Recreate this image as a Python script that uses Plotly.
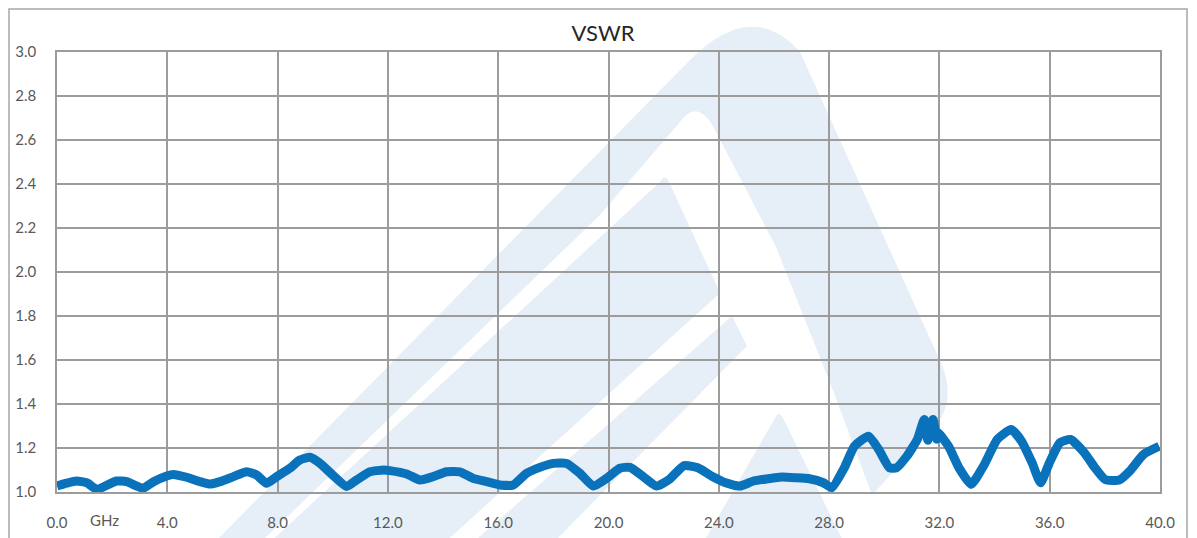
import plotly.graph_objects as go

# ---- data ----
freq_ghz = [0.0, 0.35, 0.71, 1.08, 1.44, 1.8, 2.16, 2.53, 2.89, 3.13, 3.5, 3.98, 4.22, 4.7,
            5.19, 5.55, 5.91, 6.4, 6.88, 7.24, 7.6, 7.97, 8.45, 8.8, 9.18, 9.54, 10.0, 10.5,
            10.87, 11.35, 11.85, 12.07, 12.68, 13.16, 13.64, 14.13, 14.61, 15.09, 15.58,
            16.06, 16.55, 17.03, 17.51, 18.0, 18.48, 18.96, 19.45, 19.93, 20.41, 20.78,
            21.26, 21.74, 22.23, 22.74, 23.24, 23.75, 24.25, 24.76, 25.26, 25.77, 26.27,
            26.78, 27.28, 27.79, 28.1, 28.55, 28.92, 29.43, 29.8, 30.19, 30.44, 30.82,
            31.2, 31.45, 31.58, 31.77, 31.9, 31.95, 32.33, 32.71, 33.15, 33.6, 34.1, 34.6,
            34.98, 35.36, 35.67, 35.99, 36.37, 36.75, 37.26, 37.64, 38.01, 38.52, 38.9,
            39.4, 39.97]
vswr = [1.027, 1.04, 1.05, 1.042, 1.012, 1.03, 1.05, 1.047, 1.027, 1.017, 1.047, 1.073,
        1.08, 1.067, 1.047, 1.036, 1.047, 1.07, 1.092, 1.077, 1.04, 1.07, 1.108, 1.145,
        1.158, 1.13, 1.077, 1.025, 1.055, 1.092, 1.1, 1.097, 1.082, 1.055, 1.07, 1.092,
        1.092, 1.062, 1.047, 1.032, 1.032, 1.085, 1.112, 1.13, 1.13, 1.085, 1.027, 1.062,
        1.108, 1.112, 1.07, 1.027, 1.06, 1.12, 1.11, 1.072, 1.042, 1.027, 1.05, 1.06,
        1.068, 1.065, 1.06, 1.042, 1.02, 1.11, 1.208, 1.254, 1.193, 1.11, 1.11, 1.163,
        1.239, 1.33, 1.235, 1.33, 1.24, 1.269, 1.208, 1.11, 1.035, 1.118, 1.239, 1.284,
        1.231, 1.133, 1.042, 1.133, 1.224, 1.239, 1.178, 1.11, 1.057, 1.054, 1.095,
        1.171, 1.208]

x_tick_vals = [0, 4, 8, 12, 16, 20, 24, 28, 32, 36, 40]
y_tick_vals = [1.0, 1.2, 1.4, 1.6, 1.8, 2.0, 2.2, 2.4, 2.6, 2.8, 3.0]
title_text = "VSWR"
unit_text = "GHz"

# ---- layout geometry (screen pixels; the page body adds an 8px offset) ----
OFF = 8
W, H = 1197 - OFF, 538 - OFF
L, R, T, B = 57, 1160, 52, 492          # plot area in screen pixels
PW, PH = R - L, B - T


def P(x, y):
    return f"{(x - L) / PW:.5f},{(B - y) / PH:.5f}"


GRID = "#9c9c9c"
TICK = "#595959"
WM = "rgba(214,229,242,0.62)"
FONT = "Lato, Carlito, sans-serif"

fig = go.Figure()
fig.add_trace(go.Scatter(x=freq_ghz, y=vswr, mode="lines",
                         line=dict(color="#0A72BB", width=9, shape="spline", smoothing=0.5),
                         hoverinfo="skip", showlegend=False))

shapes = []
# faint watermark logo (decoration)
wm_paths = [
    "M" + P(212, 545) + " L" + P(690, 60) + " Q" + P(752, -2) + " " + P(800, 52)
    + " L" + P(942, 365) + " Q" + P(958, 405) + " " + P(930, 432)
    + " L" + P(872, 495) + " L" + P(834, 393) + " L" + P(776, 247) + " L" + P(714, 128)
    + " Q" + P(697, 98) + " " + P(680, 122) + " L" + P(600, 215) + " L" + P(258, 545) + " Z",
    "M" + P(267, 545) + " L" + P(660, 182) + " Q" + P(665, 172) + " " + P(670, 184)
    + " L" + P(720, 293) + " L" + P(442, 545) + " Z",
    "M" + P(732, 316) + " L" + P(747, 346) + " L" + P(551, 545) + " L" + P(470, 545) + " Z",
    "M" + P(702, 545) + " L" + P(775, 418) + " Q" + P(779, 410) + " " + P(783, 418)
    + " L" + P(845, 545) + " Z",
]
for pth in wm_paths:
    shapes.append(dict(type="path", path=pth, xref="paper", yref="paper",
                       fillcolor=WM, line=dict(width=0), layer="below"))
# outer chart border
shapes.append(dict(type="rect", xref="paper", yref="paper",
                   x0=(9 - L) / PW, x1=(1187 - L) / PW,
                   y0=(B - 570) / PH, y1=(B - 9) / PH,
                   line=dict(color="#a6a6a6", width=1.5), fillcolor="rgba(0,0,0,0)",
                   layer="below"))

fig.update_layout(
    width=W, height=H, autosize=False,
    margin=dict(l=L - OFF, r=W - (R - OFF), t=T - OFF, b=H - (B - OFF), pad=0,
                autoexpand=False),
    paper_bgcolor="white", plot_bgcolor="rgba(0,0,0,0)",
    title=dict(text=title_text, x=(603 - OFF) / W, xanchor="center",
               y=1 - (33 - OFF) / H, yanchor="middle",
               font=dict(family=FONT, size=22, color="#262626")),
    font=dict(family=FONT, size=15, color=TICK),
    shapes=shapes,
    annotations=[dict(text=unit_text, x=1.74, xref="x", y=(B - 520) / PH, yref="paper",
                      xanchor="center", yanchor="middle", showarrow=False,
                      font=dict(family=FONT, size=15, color=TICK))],
    showlegend=False,
)
fig.update_xaxes(range=[0, 40], tickvals=x_tick_vals, ticktext=[f"{v:.1f}" for v in x_tick_vals],
                 showgrid=True, gridcolor=GRID, gridwidth=1.6, zeroline=False,
                 showline=True, linecolor=GRID, linewidth=1.6, mirror=True, automargin=False,
                 ticks="", ticklabelstandoff=16, fixedrange=True)
fig.update_yaxes(range=[1, 3], tickvals=y_tick_vals, ticktext=[f"{v:.1f}" for v in y_tick_vals],
                 showgrid=True, gridcolor=GRID, gridwidth=1.6, zeroline=False,
                 showline=True, linecolor=GRID, linewidth=1.6, mirror=True, automargin=False,
                 ticks="", ticklabelstandoff=16, fixedrange=True)

fig.write_html("out.html", config={"displayModeBar": False})
